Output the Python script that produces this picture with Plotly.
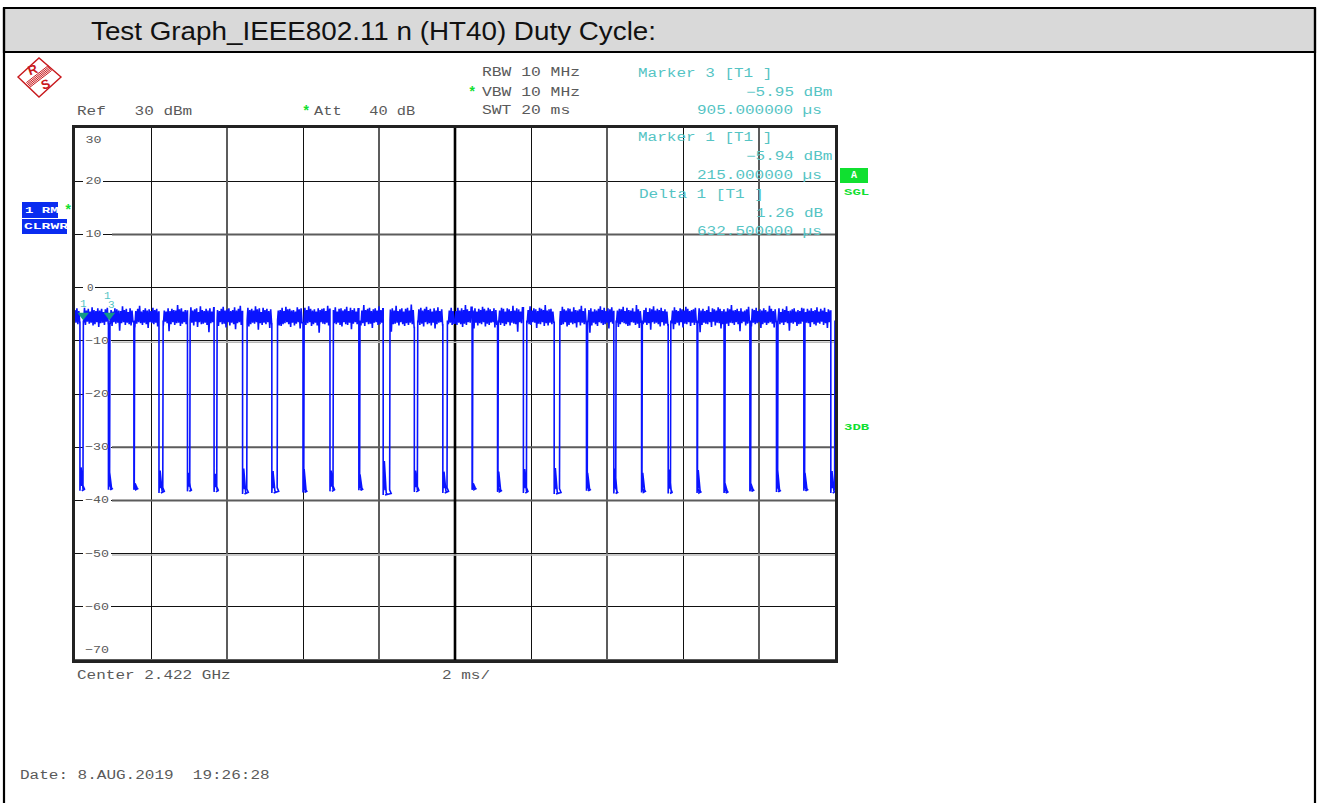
import plotly.graph_objects as go

# ---------- data ----------
sweep_ms = 20.0
top_levels_a = [
-4.2,-6.6,-3.9,-6.9,-4.4,-6.5,-4.1,-7.6,-4.6,-6.7,-3.8,-7.0,-4.3,-6.4,-4.0,-6.8,-4.5,-6.6,-3.7,-7.1,
-4.2,-6.9,-4.4,-6.5,-3.9,-7.4,-4.3,-6.7,-4.0,-6.6,-4.6,-7.0,-4.1,-6.4,-3.8,-6.8,-4.4,-6.9,-4.2,-7.2,
-4.5,-6.5,-3.9,-6.8,-4.1,-6.6,-4.3,-8.1,-4.4,-6.7,-3.5,-6.5,-4.2,-7.0,-4.0,-6.6,-4.6,-6.9,-3.9,-7.1,
-4.3,-6.4,-4.1,-7.5,-4.4,-6.8,-4.0,-6.5,-3.4,-6.7,-4.5,-7.0,-4.2,-6.6,-3.9,-6.9,-4.3,-7.6,-4.1,-6.5,
-4.4,-6.7,-3.8,-6.9,-4.2,-6.6,-4.0,-7.3,-4.6,-6.5,-3.6,-6.8,-4.1,-7.1,-4.3,-6.4,-4.5,-6.7,-3.9,-8.2,
-4.4,-6.9,-4.0,-6.5,-4.2,-7.0,-4.3,-6.7,-3.3,-6.6,-4.1,-7.2,-3.9,-6.8,-4.5,-6.5,-4.2,-6.9,-4.4,-7.7,
-4.0,-6.7,-3.7,-6.6,-4.3,-7.1,-4.1,-6.4,-3.9,-7.4,-4.6,-6.5,-3.5,-6.9,-4.2,-6.8,-4.4,-6.6,-4.0,-7.0,
-4.3,-8.4,-3.9,-6.7,-4.5,-6.5,-3.8,-7.0,-4.1,-6.6,-4.2,-7.2,-4.4,-6.5,-4.0,-6.9,-3.6,-6.8,-4.3,-7.5,
-4.1,-6.5,-3.9,-7.1,-4.4,-6.6,-4.2,-6.9,-3.7,-7.8,-4.3,-6.7,-4.0,-6.5,-3.4,-7.0,-4.5,-6.8,-4.1,-7.1,
-4.4,-6.5,-3.8,-7.3,-4.2,-6.9,-4.0,-6.6,-4.3,-6.8,-3.5,-6.5,-4.1,-7.9,-3.9,-6.7,-4.6,-7.0,-3.8,-6.6,
]
top_levels_b = [
-4.2,-6.9,-4.0,-6.5,-4.4,-7.6,-4.1,-6.8,-3.3,-7.0,-4.5,-6.6,-3.9,-6.5,-4.3,-7.1,-4.2,-7.2,-3.8,-6.9,
-4.4,-6.7,-3.6,-6.5,-4.1,-6.9,-4.0,-7.4,-4.3,-6.6,-4.2,-7.1,-4.5,-6.8,-3.7,-6.5,-4.1,-7.7,-3.9,-6.6,
-4.4,-6.9,-3.8,-7.0,-4.2,-6.7,-3.5,-6.5,-4.0,-7.2,-4.3,-6.9,-4.1,-6.6,-4.5,-7.1,-3.9,-8.5,-4.2,-6.5,
-4.0,-6.8,-3.9,-6.9,-4.4,-6.6,-3.4,-7.1,-4.1,-6.5,-4.3,-7.5,-4.2,-6.7,-3.7,-6.9,-4.5,-6.6,-4.0,-7.0,
-3.9,-7.3,-4.3,-6.5,-4.1,-6.9,-3.6,-7.0,-4.4,-6.6,-3.8,-7.8,-4.2,-6.8,-3.9,-6.5,-4.5,-6.9,-4.0,-6.6,
-4.1,-7.1,-4.3,-6.7,-3.3,-7.2,-4.2,-6.5,-4.0,-6.9,-3.8,-6.8,-4.4,-7.6,-4.1,-6.6,-3.9,-6.5,-4.3,-7.0,
-3.5,-6.9,-4.2,-6.6,-4.0,-7.4,-4.4,-7.0,-3.8,-6.7,-4.5,-6.5,-4.1,-8.3,-3.9,-6.9,-4.3,-6.8,-3.4,-6.6,
-4.4,-7.1,-4.1,-6.5,-3.9,-6.9,-4.5,-7.2,-4.0,-6.7,-3.8,-7.0,-4.3,-6.6,-3.2,-6.9,-4.2,-7.5,-3.9,-6.5,
-4.4,-6.6,-4.1,-7.0,-3.8,-6.8,-4.3,-7.3,-4.0,-6.5,-3.6,-6.9,-4.2,-6.7,-4.0,-7.1,-4.5,-6.6,-3.9,-7.7,
-4.3,-6.9,-3.7,-6.6,-4.4,-6.5,-4.1,-7.0,-3.3,-6.8,-4.2,-7.4,-3.9,-6.9,-4.3,-6.6,-3.8,-7.0,-4.4,-6.7,
]
gap_start_ms = [0.13,0.88,1.55,2.21,2.96,3.66,4.41,5.18,6.00,6.71,7.47,8.11,8.93,9.68,10.45,11.12,11.80,12.61,13.46,14.18,14.91,15.61,16.37,17.08,17.76,18.46,19.18,19.89]
gap_end_ms   = [0.22,0.92,1.57,2.32,3.03,3.74,4.53,5.33,6.03,6.80,7.50,8.29,9.02,9.80,10.47,11.14,11.89,12.76,13.49,14.24,14.93,15.68,16.39,17.11,17.79,18.50,19.21,20.00]
gap_low_dbm  = [-38.2,-38.0,-38.0,-38.6,-38.3,-38.4,-38.8,-38.6,-38.5,-38.3,-38.1,-39.0,-38.4,-38.6,-38.0,-38.4,-38.6,-38.8,-38.2,-38.7,-38.5,-38.7,-38.6,-38.6,-38.3,-38.4,-38.2,-38.6]
gap_high_dbm = [-34.6,-35.5,-37.6,-35.2,-35.6,-35.8,-34.8,-35.3,-34.9,-35.2,-35.9,-33.4,-35.2,-35.4,-37.6,-35.4,-34.9,-34.7,-35.6,-34.8,-35.6,-35.0,-35.1,-37.7,-37.7,-35.0,-35.6,-35.3]

marker_ms = [0.215, 0.905]
marker_dbm = [-5.94, -5.95]
marker_numbers = ["1", "3"]

y_label_text = ["30", "20", "10", "0", "\u221210", "\u221220", "\u221230", "\u221240", "\u221250", "\u221260", "\u221270"]
y_label_pos  = [27.7, 20, 10, 0, -10, -20, -30, -40, -50, -60, -68.2]
grid_gray_x = [4, 8, 14, 18]
grid_gray_y = [10, -30, -40, -70]
grid_shadow_y = [-10.25, -50.25]

title_text = "Test Graph_IEEE802.11 n (HT40) Duty Cycle:"

# ---------- trace assembly ----------
# the sweep is read as a fine zigzag: both level lists are laid over the same 20 ms
top_levels = top_levels_a + top_levels_b + top_levels_b[::-1] + top_levels_a[::-1]
step = sweep_ms / len(top_levels)
top_t = [i * step for i in range(len(top_levels))]
xs, ys = [], []
prev_end = -1.0
for s, e, lo, hi in zip(gap_start_ms, gap_end_ms, gap_low_dbm, gap_high_dbm):
    last = -5.5
    for t, v in zip(top_t, top_levels):
        if prev_end < t < s:
            xs.append(t); ys.append(v); last = v
    xs += [s, s, s + 0.02, s + 0.05, s + 0.03, s + 0.08, s + 0.10, s + 0.05, e + 0.03, e - 0.01, e]
    ys += [last, lo, hi, lo + 0.9, hi + 0.8, lo + 0.4, lo + 0.2, lo, lo + 0.3, lo + 1.0, -6.2]
    prev_end = e

# ---------- helpers ----------
L, R, T, B = 75, 835, 128, 660
W, H = 1322, 803
def px(x): return (x - L) / (R - L)
def py(y): return (B - y) / (B - T)
def to_ms(x): return (x - L) / (R - L) * sweep_ms
def to_db(y): return 30 - (y - T) / (B - T) * 100

MONO = "Liberation Mono"
GRAY = "#5a5a5a"
CYAN = "#55c4c4"
GREEN = "#10e030"
BLUE = "#0a2cf0"
RED = "#c8181c"

annotations, shapes = [], []
def text(x, y, s, color=GRAY, size=12, anchor="left", family=MONO, bold=False, angle=0):
    annotations.append(dict(
        x=px(x), y=py(y), xref="paper", yref="paper", text=f"<b>{s}</b>" if bold else s,
        showarrow=False, xanchor=anchor, yanchor="middle", align=anchor,
        textangle=angle, borderpad=0,
        font=dict(family=family, size=size, color=color)))
def rect(x0, y0, x1, y1, fill=None, line=None, width=0, layer="above"):
    shapes.append(dict(type="rect", xref="paper", yref="paper", x0=px(x0), x1=px(x1),
                       y0=py(y0), y1=py(y1), fillcolor=fill, layer=layer,
                       line=dict(color=line or "rgba(0,0,0,0)", width=width)))
def poly(points, color, width=1, fill=None, close=True):
    d = "M " + " L ".join(f"{px(a):.5f},{py(b):.5f}" for a, b in points) + (" Z" if close else "")
    shapes.append(dict(type="path", xref="paper", yref="paper", path=d, layer="above",
                       fillcolor=fill, line=dict(color=color, width=width)))

# page frame + header band
rect(4, 8, 1315, 52, fill="#d9d9d9", line="#000000", width=2.2)
for a, b, c, d in [(4, 8, 4, 803), (1315, 8, 1315, 803)]:
    poly([(a, b), (c, d)], "#000000", 2.2, close=False)
text(90, 31, title_text, color="#111111", size=26, family="Liberation Sans")

# logo
poly([(18, 77), (39, 58), (61, 77), (39, 97)], RED, 1.4)
for off in (-2.4, -1.2, 0, 1.2, 2.4):
    poly([(28 + off * 0.7, 85 + off), (50 + off * 0.7, 68 + off)], RED, 1.0, close=False)
text(33, 70, "R", color=RED, size=13, anchor="center", family="Liberation Sans", bold=True, angle=-20)
text(45, 84, "S", color=RED, size=13, anchor="center", family="Liberation Sans", bold=True, angle=-20)

# header readings
text(76, 112, "Ref   30 dBm")
text(301, 112, "*", color=GREEN, size=14, bold=True)
text(313, 112, "Att   40 dB")
text(481, 73, "RBW 10 MHz")
text(467, 92.5, "*", color=GREEN, size=14, bold=True)
text(481, 92.5, "VBW 10 MHz")
text(481, 111.5, "SWT 20 ms")

# marker block
for x, y, s in [(637, 74, "Marker 3 [T1 ]"), (745, 92.5, "\u22125.95 dBm"), (696, 111.5, "905.000000 \u00b5s"),
                (637, 138, "Marker 1 [T1 ]"), (745, 157, "\u22125.94 dBm"), (696, 176, "215.000000 \u00b5s"),
                (638, 195, "Delta 1 [T1 ]"), (755, 214, "1.26 dB"), (696, 232, "632.500000 \u00b5s")]:
    text(x, y, s, color=CYAN)

# side labels
rect(840, 168, 868, 183, fill=GREEN)
text(854, 175.5, "A", color="#ffffff", size=10, anchor="center", bold=True)
text(843, 193, "SGL", color=GREEN, size=9, bold=True)
text(843, 428, "3DB", color=GREEN, size=9, bold=True)
rect(22, 202, 58, 218, fill=BLUE)
rect(22, 219, 67, 234, fill=BLUE)
text(24, 210.5, "1 RM", color="#ffffff", size=9, bold=True)
text(62.5, 210.5, "*", color=GREEN, size=14, bold=True)
text(23, 227, "CLRWR", color="#ffffff", size=8.6, bold=True)

# footer
text(76, 676, "Center 2.422 GHz")
text(441, 676, "2 ms/")
text(19, 776, "Date: 8.AUG.2019  19:26:28")

# inside y labels, with a white patch under each that stays below the trace
for s, v in zip(y_label_text, y_label_pos):
    y_px = B - (v + 70) / 100 * (B - T)
    width = 8 * len(s)
    shapes.append(dict(type="rect", xref="x", yref="y", x0=to_ms(83), x1=to_ms(87 + width),
                       y0=to_db(y_px + 4), y1=to_db(y_px - 4), fillcolor="#ffffff",
                       layer="between", line=dict(width=0)))
    annotations.append(dict(x=px(85), y=v, xref="paper", yref="y", text=s, showarrow=False,
                            xanchor="left", yanchor="middle",
                            font=dict(family=MONO, size=11, color=GRAY)))

# heavier / greyer grid lines
for v in grid_gray_x:
    shapes.append(dict(type="line", xref="x", yref="y", x0=v, x1=v, y0=-70, y1=30,
                       layer="between", line=dict(color="#5c5c5c", width=2)))
for v in grid_gray_y:
    left = 0 if v == -70 else to_ms(112)
    shapes.append(dict(type="line", xref="x", yref="y", x0=left, x1=20, y0=v, y1=v,
                       layer="between", line=dict(color="#5c5c5c", width=2)))
shapes.append(dict(type="line", xref="x", yref="y", x0=10, x1=10, y0=-70, y1=30,
                   layer="between", line=dict(color="#000000", width=2.6)))
for v in grid_shadow_y:
    shapes.append(dict(type="line", xref="x", yref="y", x0=to_ms(112), x1=20, y0=v, y1=v,
                       layer="between", line=dict(color="#b8b8b8", width=1.5)))

fig = go.Figure()
fig.add_trace(go.Scatter(x=xs, y=ys, mode="lines",
                         line=dict(color="#0a14ff", width=1.6, simplify=False),
                         hoverinfo="skip", showlegend=False))
fig.add_trace(go.Scatter(x=marker_ms, y=[v + 0.75 for v in marker_dbm], mode="markers",
                         marker=dict(symbol="triangle-down", size=10, color="#129a86"),
                         hoverinfo="skip", showlegend=False))
# marker numbers
annotations.append(dict(x=marker_ms[0], y=marker_dbm[0] + 2.9, text=marker_numbers[0], showarrow=False,
                        xanchor="center", yanchor="middle", font=dict(family=MONO, size=11, color=CYAN)))
annotations.append(dict(x=marker_ms[1] - 0.05, y=marker_dbm[1] + 4.4, text="1", showarrow=False,
                        xanchor="center", yanchor="middle", font=dict(family=MONO, size=11, color=CYAN)))
annotations.append(dict(x=marker_ms[1] + 0.05, y=marker_dbm[1] + 2.6, text=marker_numbers[1], showarrow=False,
                        xanchor="center", yanchor="middle", font=dict(family=MONO, size=11, color=CYAN)))

fig.update_layout(
    width=W, height=H, autosize=False,
    margin=dict(l=L, r=W - R, t=T, b=H - B, pad=0),
    paper_bgcolor="#ffffff", plot_bgcolor="#ffffff",
    showlegend=False, hovermode=False,
    annotations=annotations, shapes=shapes,
    xaxis=dict(range=[0, sweep_ms], dtick=2, tick0=0, showticklabels=False, ticks="",
               showgrid=True, gridcolor="#111111", gridwidth=1, zeroline=False,
               showline=True, linecolor="#222222", linewidth=2.6, mirror=True),
    yaxis=dict(range=[-70, 30], dtick=10, tick0=-70, showticklabels=False, ticks="",
               showgrid=True, gridcolor="#111111", gridwidth=1, zeroline=False,
               showline=True, linecolor="#222222", linewidth=2.6, mirror=True),
)

post = """
document.body.style.margin='0';
var special={'SGL':8.4,'3DB':8.4,'CLRWR':8.8,'1 RM':8.4,'Att   40 dB':9.2,'RBW 10 MHz':9.8,'VBW 10 MHz':9.8,'SWT 20 ms':9.8};
document.querySelectorAll('.annotation-text').forEach(function(el){
  var s=el.textContent, fam=el.style.fontFamily||'';
  if(fam.indexOf('Sans')>=0 && s.length>5){
    el.setAttribute('textLength','565'); el.setAttribute('lengthAdjust','spacingAndGlyphs'); return;
  }
  if(fam.indexOf('Mono')<0 || s.length<2) return;
  var a=/^\\u2212?\\d+$/.test(s)?8:(special[s]||9.6);
  el.setAttribute('textLength',String(a*s.length));
  el.setAttribute('lengthAdjust','spacingAndGlyphs');
});
"""
fig.write_html("out.html", config={"displayModeBar": False}, post_script=post)
